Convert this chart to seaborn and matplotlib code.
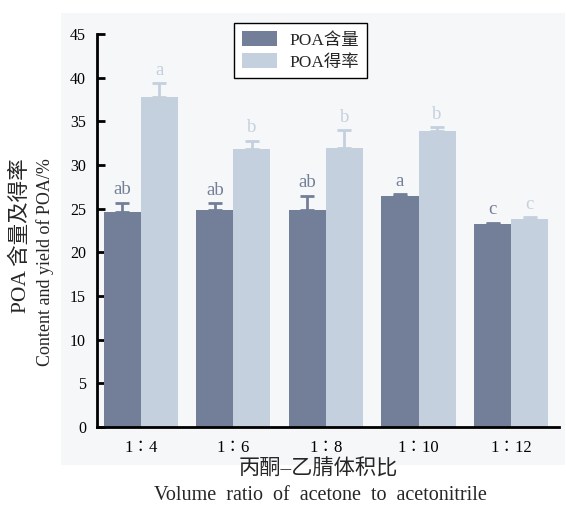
import matplotlib
matplotlib.use("Agg")
import matplotlib.pyplot as plt
from matplotlib.patches import Rectangle
import seaborn as sns
import pandas as pd
import numpy as np

# Volume ratio groups
ratios = ["1∶4", "1∶6", "1∶8", "1∶10", "1∶12"]
series = ["POA含量", "POA得率"]

# POA content and yield (%) with their standard deviations
content = [24.6, 24.8, 24.9, 26.45, 23.25]
content_err = [1.1, 0.8, 1.6, 0.25, 0.15]
yield_ = [37.8, 31.8, 32.0, 33.9, 23.8]
yield_err = [1.6, 1.0, 2.0, 0.4, 0.2]

# Significance letters
content_sig = ["ab", "ab", "ab", "a", "c"]
yield_sig = ["a", "b", "b", "b", "c"]

dark = "#737f98"
light = "#c5d0de"

sns.set_style("ticks")
plt.rcParams["font.family"] = ["Liberation Serif", "Noto Sans CJK SC"]
plt.rcParams["axes.unicode_minus"] = False

df = pd.DataFrame({
    "ratio": ratios * 2,
    "series": [series[0]] * len(ratios) + [series[1]] * len(ratios),
    "value": content + yield_,
})

W, H = 566, 507
fig = plt.figure(figsize=(W / 100, H / 100), dpi=100, facecolor="white")

# light grey panel behind the plot
panel = Rectangle((61 / W, 1 - 465 / H), (565 - 61) / W, (465 - 13) / H,
                  transform=fig.transFigure, facecolor="#f6f7f9",
                  edgecolor="none", zorder=-10)
fig.patches.append(panel)

ax = fig.add_axes([97 / W, 1 - 427 / H, (559 - 97) / W, (427 - 34) / H])
ax.set_zorder(1)
ax.set_facecolor("none")

sns.barplot(data=df, x="ratio", y="value", hue="series", order=ratios,
            hue_order=series, palette=[dark, light], errorbar=None,
            width=0.8, saturation=1, ax=ax, linewidth=0, zorder=2)

n = len(ratios)
groups = [(content, content_err, content_sig, dark),
          (yield_, yield_err, yield_sig, light)]
for k, (vals, errs, sigs, col) in enumerate(groups):
    bars = ax.patches[k * n:(k + 1) * n]
    for bar, v, e, s in zip(bars, vals, errs, sigs):
        xc = bar.get_x() + bar.get_width() / 2
        ax.errorbar(xc, v, yerr=[[0], [e]], fmt="none", ecolor=col,
                    elinewidth=2, capsize=5, capthick=2, zorder=3)
        ax.annotate(s, (xc, v + e), xytext=(0, 3), textcoords="offset points",
                    ha="center", va="bottom", fontsize=13.5, color=col)

ax.set_xlim(-0.472, 4.517)
ax.set_ylim(0, 45)
ax.set_yticks(np.arange(0, 46, 5))
ax.set_xlabel("")
ax.set_ylabel("")
for side in ("top", "right"):
    ax.spines[side].set_visible(False)
for side in ("left", "bottom"):
    ax.spines[side].set_linewidth(2)
    ax.spines[side].set_color("black")
ax.tick_params(axis="both", direction="in", length=6, width=2, colors="black",
               labelsize=11.5, pad=8)
ax.tick_params(axis="x", labelsize=12, pad=9)

leg = ax.legend(loc="upper left", bbox_to_anchor=((234 - 97) / (559 - 97), 1 + (34 - 23) / (427 - 34)),
                frameon=True, fancybox=False, edgecolor="black", framealpha=1,
                facecolor="white", fontsize=12.5, handlelength=2.05, handleheight=1.0,
                borderpad=0.45, labelspacing=0.25, handletextpad=0.7,
                borderaxespad=0)
leg.get_frame().set_linewidth(1)
leg.set_title(None)

# axis titles (Chinese and English)
fig.text(21 / W, 1 - 236 / H, "POA 含量及得率", rotation=90, ha="center",
         va="center", fontsize=15.5)
fig.text(45 / W, 1 - 262 / H, "Content and yield of POA/%", rotation=90,
         ha="center", va="center", fontsize=13)
fig.text(318 / W, 1 - 469 / H, "丙酮–乙腈体积比", ha="center", va="center",
         fontsize=15.3)
fig.text(320 / W, 1 - 496 / H, "Volume  ratio  of  acetone  to  acetonitrile",
         ha="center", va="center", fontsize=14.5)

fig.savefig("out.png", dpi=100, facecolor="white")
